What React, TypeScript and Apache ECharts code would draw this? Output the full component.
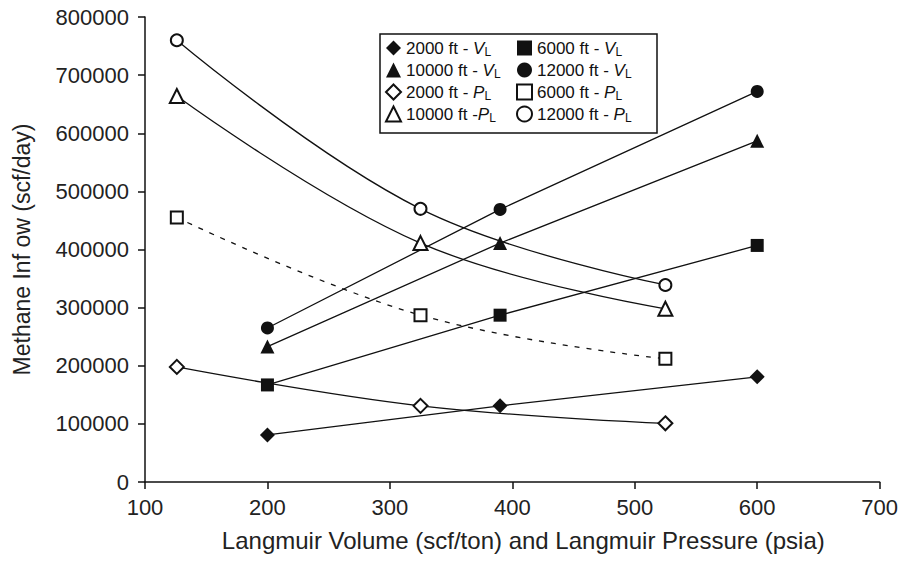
import React, { useEffect, useRef } from "react";
import * as echarts from "echarts";

// x positions
const vlX = [200, 390, 600]; // Langmuir volume (scf/ton)
const plX = [126, 325, 525]; // Langmuir pressure (psia)

// Methane inflow (scf/day)
const vl2000 = [81000, 131000, 181000];
const vl6000 = [167000, 287000, 407000];
const vl10000 = [233000, 411000, 587000];
const vl12000 = [265000, 469000, 672000];
const pl2000 = [198000, 131000, 101000];
const pl6000 = [455000, 287000, 212000];
const pl10000 = [664000, 411000, 298000];
const pl12000 = [760000, 470000, 339000];

const xTicks = { min: 100, max: 700, interval: 100 };
const yTicks = { min: 0, max: 800000, interval: 100000 };

const legendCol1 = ["2000 ft - VL", "10000 ft - VL", "2000 ft - PL", "10000 ft -PL"];
const legendCol2 = ["6000 ft - VL", "12000 ft - VL", "6000 ft - PL", "12000 ft - PL"];

const FONT = "'Liberation Sans', Arial, Helvetica, sans-serif";
const INK = "#111";

function pairs(xs: number[], ys: number[]) {
  return xs.map((x, i) => [x, ys[i]]);
}

type Def = {
  name: string;
  xs: number[];
  ys: number[];
  symbol: string;
  size: number;
  open: boolean;
  smooth: boolean;
  dashed?: boolean;
};

const defs: Def[] = [
  { name: "2000 ft - VL", xs: vlX, ys: vl2000, symbol: "diamond", size: 15, open: false, smooth: false },
  { name: "6000 ft - VL", xs: vlX, ys: vl6000, symbol: "rect", size: 13, open: false, smooth: false },
  { name: "10000 ft - VL", xs: vlX, ys: vl10000, symbol: "triangle", size: 14, open: false, smooth: false },
  { name: "12000 ft - VL", xs: vlX, ys: vl12000, symbol: "circle", size: 13, open: false, smooth: false },
  { name: "2000 ft - PL", xs: plX, ys: pl2000, symbol: "diamond", size: 14, open: true, smooth: true },
  { name: "6000 ft - PL", xs: plX, ys: pl6000, symbol: "rect", size: 12, open: true, smooth: true, dashed: true },
  { name: "10000 ft -PL", xs: plX, ys: pl10000, symbol: "triangle", size: 14, open: true, smooth: true },
  { name: "12000 ft - PL", xs: plX, ys: pl12000, symbol: "circle", size: 12, open: true, smooth: true },
];

const iconOf: Record<string, string> = {};
defs.forEach((d) => (iconOf[d.name] = d.symbol));

function legendFormatter(name: string) {
  const m = name.match(/^(.*?)([VP])L$/);
  if (!m) return name;
  return `{t|${m[1]}}{i|${m[2]}}{s|L}`;
}

const legendText = {
  fontFamily: FONT,
  fontSize: 17,
  color: INK,
  lineHeight: 20,
  rich: {
    t: { fontFamily: FONT, fontSize: 17, color: INK, lineHeight: 20, verticalAlign: "middle" },
    i: { fontFamily: FONT, fontSize: 17, fontStyle: "italic", color: INK, lineHeight: 20, verticalAlign: "middle" },
    s: { fontFamily: FONT, fontSize: 12, color: INK, lineHeight: 10, verticalAlign: "bottom" },
  },
};

function makeLegend(names: string[], left: number) {
  return {
    orient: "vertical",
    left,
    top: 38,
    itemWidth: 15,
    itemHeight: 15,
    itemGap: 2,
    padding: 0,
    selectedMode: false,
    data: names.map((n) => ({ name: n, icon: iconOf[n] })),
    formatter: legendFormatter,
    textStyle: legendText,
  };
}

export default function App() {
  const ref = useRef<HTMLDivElement>(null);
  useEffect(() => {
    if (!ref.current) return;
    const chart = echarts.init(ref.current, undefined, { renderer: "svg" });
    const option: any = {
      animation: false,
      backgroundColor: "#fff",
      grid: { left: 145, right: 21, top: 17, bottom: 81 },
      xAxis: {
        type: "value",
        ...xTicks,
        name: "Langmuir Volume (scf/ton) and Langmuir Pressure (psia)",
        nameLocation: "middle",
        nameGap: 46,
        nameTextStyle: { fontFamily: FONT, fontSize: 24, color: "#222", padding: [0, 0, 0, 22] },
        axisLine: { onZero: false, lineStyle: { color: INK, width: 1.5 } },
        axisTick: { show: true, inside: false, length: 7, lineStyle: { color: INK, width: 1.5 } },
        axisLabel: { fontFamily: FONT, fontSize: 22, color: "#222", margin: 14 },
        splitLine: { show: false },
      },
      yAxis: {
        type: "value",
        ...yTicks,
        name: "Methane Inf ow (scf/day)",
        nameLocation: "middle",
        nameGap: 112,
        nameTextStyle: { fontFamily: FONT, fontSize: 23, color: "#222" },
        axisLine: { show: true, lineStyle: { color: INK, width: 1.5 } },
        axisTick: { show: true, inside: false, length: 7, lineStyle: { color: INK, width: 1.5 } },
        axisLabel: { fontFamily: FONT, fontSize: 22, color: "#222", margin: 16, formatter: (v: number) => String(v) },
        splitLine: { show: false },
      },
      legend: [makeLegend(legendCol1, 385), makeLegend(legendCol2, 516)],
      graphic: [
        {
          type: "rect",
          z: 3,
          shape: { x: 380, y: 34, width: 277, height: 99 },
          style: { fill: "#fff", stroke: INK, lineWidth: 1.5 },
        },
      ],
      series: defs.map((d) => ({
        type: "line",
        name: d.name,
        data: pairs(d.xs, d.ys),
        symbol: d.symbol,
        symbolSize: d.size,
        showAllSymbol: true,
        smooth: d.smooth ? 0.4 : false,
        lineStyle: { color: INK, width: 1.3, type: d.dashed ? [5, 7] : "solid" },
        itemStyle: d.open
          ? { color: "#fff", borderColor: INK, borderWidth: 2 }
          : { color: INK, borderColor: INK, borderWidth: 0 },
        emphasis: { disabled: true },
      })),
    };
    chart.setOption(option);
    return () => chart.dispose();
  }, []);
  return (
    <div
      ref={ref}
      style={{ position: "absolute", left: 0, top: 0, width: 901, height: 563, background: "#fff" }}
    />
  );
}
